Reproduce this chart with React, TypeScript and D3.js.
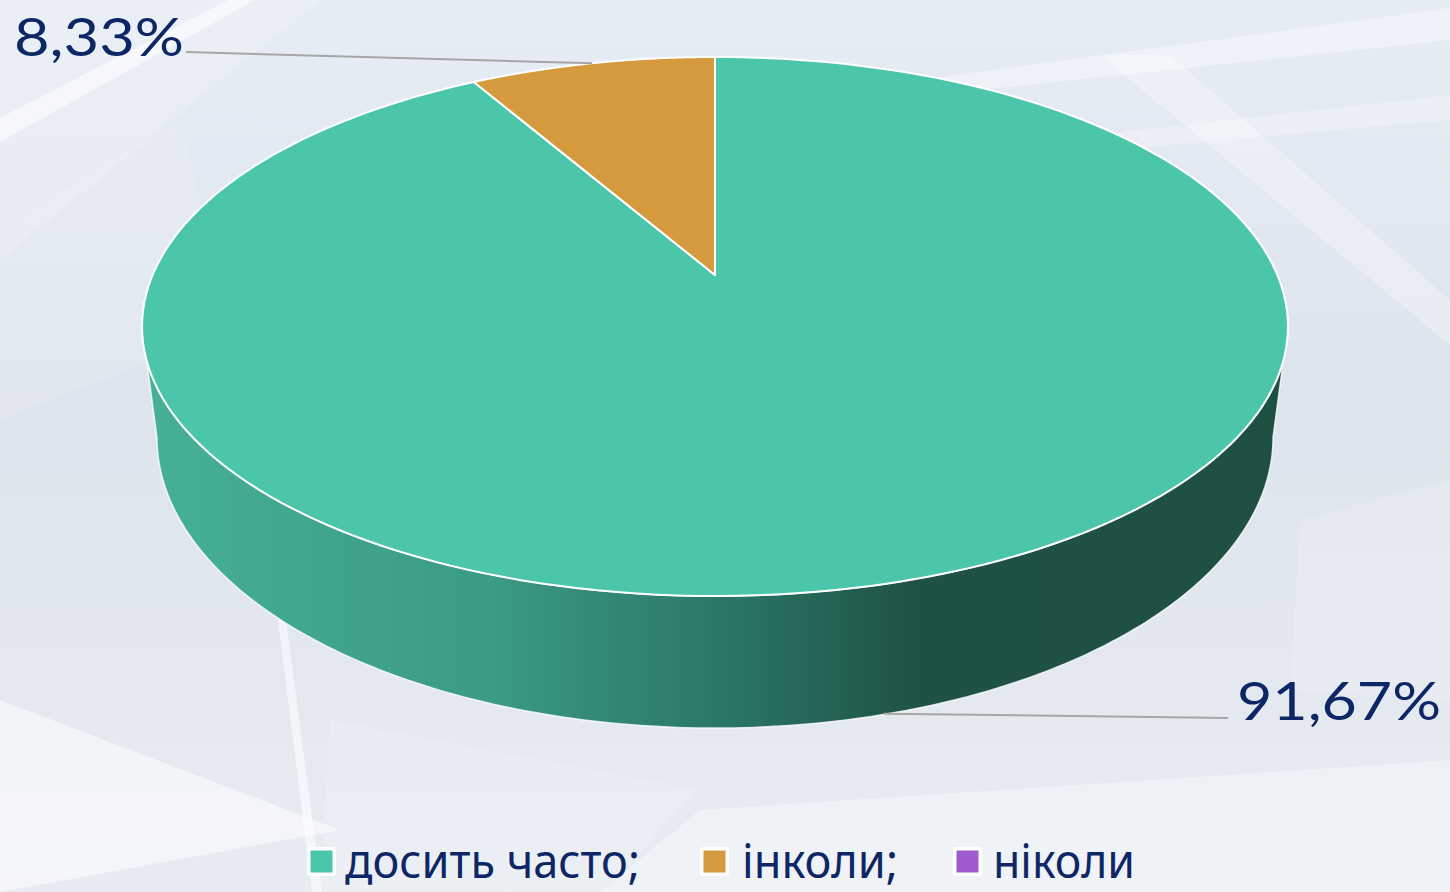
import React from "react";
import * as d3 from "d3";

const categories = ["досить часто;", "інколи;", "ніколи"];
const values = [91.67, 8.33, 0];
const valueLabels = ["91,67%", "8,33%", "0,00%"];
const colors = ["#4bc6aa", "#d69a3e", "#a05ccf"];

const W = 1450;
const H = 892;

// perspective projection parameters for the 3D pie
const CX = 715;
const APEX_Y = 275;
const K = -0.1911; // perspective factor along depth
const SX = 562.4; // horizontal radius scale
const SZ = 259.7; // depth radius scale
const DEPTH = 106.8; // wall height
const BOTTOM_SHRINK = 0.974;

function project(theta: number, bottom: boolean): [number, number] {
  const X = Math.sin(theta);
  const Z = -Math.cos(theta);
  const w = 1 + K * Z;
  const f = bottom ? BOTTOM_SHRINK : 1;
  const x = CX + (SX * X * f) / w;
  const y = APEX_Y + (SZ * Z + (bottom ? DEPTH : 0)) / w;
  return [x, y];
}

function arcPoints(a0: number, a1: number, bottom: boolean, n = 200): [number, number][] {
  const pts: [number, number][] = [];
  for (let i = 0; i <= n; i++) {
    const t = a0 + ((a1 - a0) * i) / n;
    pts.push(project(t, bottom));
  }
  return pts;
}

export default function App() {
  const pie = d3.pie<number>().sort(null).value((d) => d);
  const arcs = pie(values);
  const line = d3.line();

  // wall: front arc between silhouette angles
  const silA = Math.acos(K); // angle where Z = -K
  const wallTop = arcPoints(silA, 2 * Math.PI - silA, false);
  const wallBot = arcPoints(2 * Math.PI - silA, silA, true);
  const wallPath = line([...wallTop, ...wallBot])! + "Z";

  const slicePaths = arcs.map((a) => {
    if (a.endAngle - a.startAngle <= 0) return null;
    const pts = arcPoints(a.startAngle, a.endAngle, false);
    return line([[CX, APEX_Y], ...pts])! + "Z";
  });

  // label anchors
  const mid0 = (arcs[0].startAngle + arcs[0].endAngle) / 2;
  const mid1 = (arcs[1].startAngle + arcs[1].endAngle) / 2;
  const p0 = project(mid0, true);
  const p1 = project(mid1, false);

  const legendX = [307, 700, 953];
  const legendTextX = [345, 742, 993];
  const legendTextW = [295, 156, 142];

  return (
    <svg width={W} height={H} style={{ position: "absolute", left: 0, top: 0 }}>
      <defs>
        <linearGradient id="bg" x1="0" y1="0" x2="0" y2="1">
          <stop offset="0" stopColor="#e7edf5" />
          <stop offset="0.45" stopColor="#dee4ed" />
          <stop offset="1" stopColor="#e8ecf2" />
        </linearGradient>
        <linearGradient id="wall" gradientUnits="userSpaceOnUse" x1="150" y1="0" x2="1280" y2="0">
          <stop offset="0" stopColor="#46b095" />
          <stop offset="0.3" stopColor="#3b9b83" />
          <stop offset="0.5" stopColor="#2b7867" />
          <stop offset="0.68" stopColor="#1f5246" />
          <stop offset="1" stopColor="#1e4f43" />
        </linearGradient>
      </defs>
      <rect x={0} y={0} width={W} height={H} fill="url(#bg)" />
      {/* faint background facets */}
      <g fill="#ffffff">
        <polygon points="0,0 320,0 0,260" opacity={0.18} />
        <polygon points="0,118 0,142 255,0 228,0" opacity={0.55} />
        <polygon points="0,230 180,120 230,330 0,420" opacity={0.12} />
        <polygon points="860,88 1450,8 1450,40 905,98" opacity={0.35} />
        <polygon points="960,150 1450,95 1450,120 1000,160" opacity={0.25} />
        <polygon points="1100,55 1170,55 1450,300 1450,345" opacity={0.3} />
        <polygon points="1300,520 1450,480 1450,700 1290,690" opacity={0.15} />
        <polygon points="0,700 340,830 0,892" opacity={0.5} />
        <polygon points="700,810 1450,760 1450,892 600,892" opacity={0.35} />
        <polygon points="330,720 700,790 600,892 320,892" opacity={0.18} />
        <polygon points="278,620 286,620 322,892 312,892" opacity={0.55} />
      </g>

      {/* wall */}
      <path d={wallPath} fill="url(#wall)" stroke="#ffffff" strokeWidth={1.5} strokeOpacity={0.8} />

      {/* top slices */}
      {slicePaths.map((d, i) =>
        d ? (
          <path key={i} d={d} fill={colors[i]} stroke="#ffffff" strokeWidth={2} strokeLinejoin="round" />
        ) : null
      )}

      {/* leader lines */}
      <line x1={186} y1={52} x2={p1[0]} y2={p1[1]} stroke="#a6a6a6" strokeWidth={2} />
      <line x1={p0[0] - 5} y1={p0[1]} x2={1228} y2={718} stroke="#a6a6a6" strokeWidth={2} />

      {/* value labels */}
      <g fill="#0d2766" fontFamily="Lato, 'DejaVu Sans', sans-serif" fontSize={53}>
        <text x={14} y={56} textLength={170} lengthAdjust="spacingAndGlyphs">
          {valueLabels[1]}
        </text>
        <text x={1237} y={720} textLength={204} lengthAdjust="spacingAndGlyphs">
          {valueLabels[0]}
        </text>
      </g>

      {/* legend */}
      {categories.map((c, i) => (
        <g key={c}>
          <rect x={legendX[i]} y={847} width={29} height={29} rx={3} fill="#ffffff" />
          <rect x={legendX[i] + 3.5} y={850.5} width={22} height={22} fill={colors[i]} />
          <text
            x={legendTextX[i]}
            y={878}
            fill="#0d2766"
            fontFamily="'Noto Sans', 'Open Sans', sans-serif"
            fontSize={47}
            textLength={legendTextW[i]}
            lengthAdjust="spacingAndGlyphs"
          >
            {c}
          </text>
        </g>
      ))}
    </svg>
  );
}
